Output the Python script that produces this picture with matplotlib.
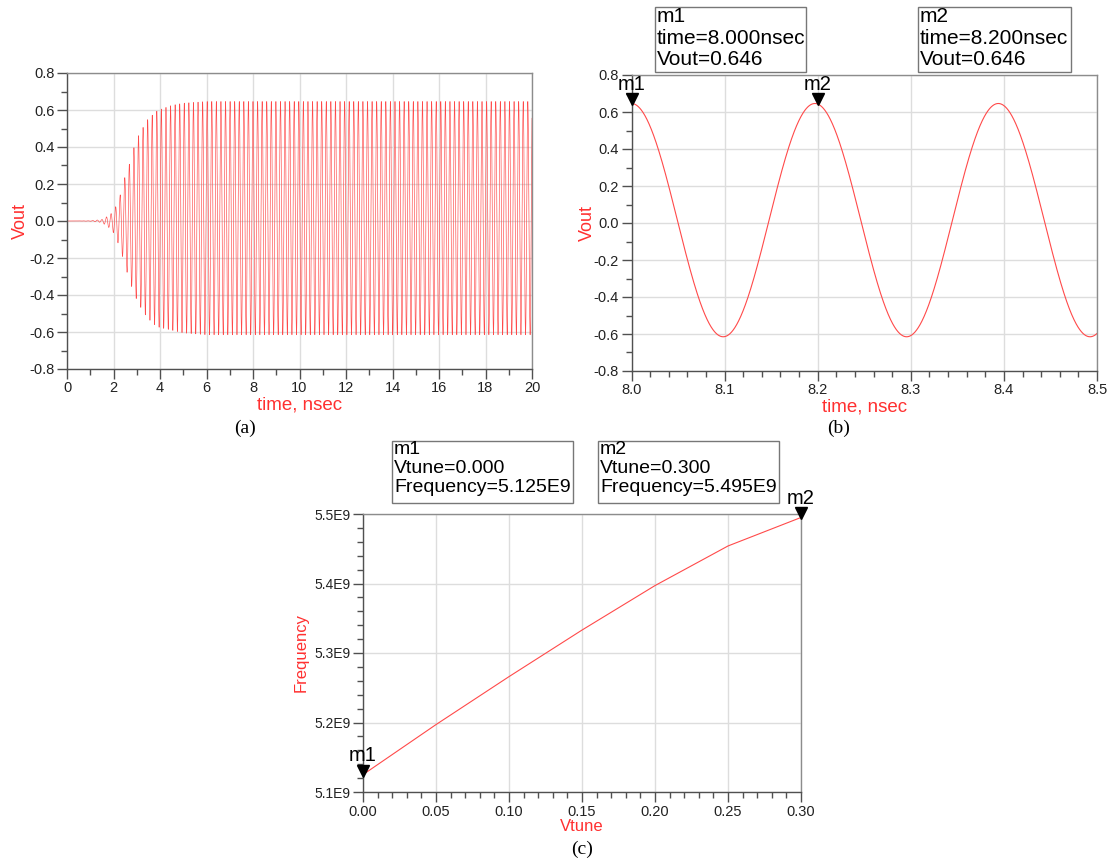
import numpy as np
import matplotlib
matplotlib.use('Agg')
import matplotlib.pyplot as plt
from matplotlib.ticker import MultipleLocator, FormatStrFormatter
from matplotlib.patches import Rectangle
import matplotlib.transforms as mtransforms

plt.rcParams['font.family'] = ['Liberation Sans', 'DejaVu Sans']
plt.rcParams['axes.unicode_minus'] = False

# ---------------- data ----------------
# (a) transient: envelope of the oscillation
env_up_t = [0.0, 1.0, 1.5, 1.86, 2.07, 2.29, 2.47, 2.69, 2.86, 3.07, 3.29, 3.47, 3.69, 3.90, 4.5, 5.0, 6.0, 20.0]
env_up_v = [0.0, 0.001, 0.008, 0.034, 0.070, 0.142, 0.229, 0.310, 0.390, 0.460, 0.510, 0.548, 0.575, 0.598, 0.625, 0.637, 0.646, 0.646]
env_lo_t = [0.0, 1.0, 1.5, 1.93, 2.14, 2.36, 2.54, 2.74, 2.94, 3.14, 3.36, 3.57, 3.76, 3.97, 4.5, 5.0, 6.0, 20.0]
env_lo_v = [0.0, -0.001, -0.008, -0.047, -0.100, -0.180, -0.260, -0.340, -0.410, -0.460, -0.506, -0.537, -0.560, -0.575, -0.590, -0.605, -0.615, -0.615]
osc_period_ns = 0.197     # period
osc_peak_ns = 8.0         # a crest position (marker m1)

# (b) markers
b_markers = ["m1", "m2"]
b_marker_t = [8.000, 8.200]
b_marker_v = [0.646, 0.646]

# (c) tuning curve
vtune = [0.00, 0.05, 0.10, 0.15, 0.20, 0.25, 0.30]
freq = [5.125e9, 5.197e9, 5.266e9, 5.333e9, 5.397e9, 5.454e9, 5.495e9]
c_markers = ["m1", "m2"]

# ---------------- signal ----------------
def vout(t):
    up = np.interp(t, env_up_t, env_up_v)
    lo = np.interp(t, env_lo_t, env_lo_v)
    return (up + lo) / 2 + (up - lo) / 2 * np.cos(2 * np.pi * (t - osc_peak_ns) / osc_period_ns)

t_a = np.linspace(0, 20, 40001)
t_b = np.linspace(8.0, 8.5, 2001)

W, H = 1109, 859
fig = plt.figure(figsize=(W / 100, H / 100), dpi=100)

def rect(l, t, r, b):
    return [l / W, 1 - b / H, (r - l) / W, (b - t) / H]

RED = '#ff3030'
LINE = '#ff4a4a'

def style(ax):
    for s in ax.spines.values():
        s.set_color('#8c8c8c')
        s.set_linewidth(1.0)
    ax.spines['left'].set_color('#505050')
    ax.spines['bottom'].set_color('#505050')
    ax.grid(True, which='major', color='#dddddd', lw=1.0)
    ax.set_axisbelow(True)
    ax.tick_params(which='major', length=7, width=1, color='#505050',
                   labelsize=10.5, labelcolor='#222222', pad=2)
    ax.tick_params(which='minor', length=4, width=1, color='#505050')

def marker(ax, x, y, name, dx=0, dy=19, up=4):
    tr = mtransforms.offset_copy(ax.transData, fig=fig, x=0, y=up, units='dots')
    ax.plot([x], [y], marker='v', ms=8, color='black', transform=tr,
            clip_on=False, zorder=6, linestyle='none')
    ax.annotate(name, xy=(x, y), xytext=(dx, dy), textcoords='offset pixels',
                ha='center', va='center', fontsize=14.5, color='black',
                annotation_clip=False, zorder=6)

def box(x0, y0, x1, y1, lines, fs, ls):
    fig.add_artist(Rectangle((x0 / W, 1 - y1 / H), (x1 - x0) / W, (y1 - y0) / H,
                             transform=fig.transFigure, fill=False,
                             ec='#777777', lw=1.0))
    fig.text((x0 + 2) / W, 1 - (y0 + 0) / H, "\n".join(lines), ha='left', va='top',
             fontsize=fs, linespacing=ls, color='black')

# ---------------- (a) ----------------
axa = fig.add_axes(rect(67, 73, 532, 369))
axa.plot(t_a, vout(t_a), color=LINE, lw=0.45)
axa.set_xlim(0, 20)
axa.set_ylim(-0.8, 0.8)
axa.xaxis.set_major_locator(MultipleLocator(2))
axa.xaxis.set_minor_locator(MultipleLocator(1))
axa.yaxis.set_major_locator(MultipleLocator(0.2))
axa.yaxis.set_minor_locator(MultipleLocator(0.1))
axa.yaxis.set_major_formatter(FormatStrFormatter('%.1f'))
style(axa)
axa.set_xlabel('time, nsec', color=RED, fontsize=13.5)
axa.set_ylabel('Vout', color=RED, fontsize=13)
axa.xaxis.set_label_coords(0.5, -0.122)
axa.xaxis.label.set_va('center')
axa.yaxis.set_label_coords(-0.1, 0.5)
axa.yaxis.label.set_va('center')

# ---------------- (b) ----------------
axb = fig.add_axes(rect(631.5, 75, 1097, 371))
axb.plot(t_b, vout(t_b), color=LINE, lw=0.8)
axb.set_xlim(8.0, 8.5)
axb.set_ylim(-0.8, 0.8)
axb.xaxis.set_major_locator(MultipleLocator(0.1))
axb.xaxis.set_minor_locator(MultipleLocator(0.02))
axb.xaxis.set_major_formatter(FormatStrFormatter('%.1f'))
axb.yaxis.set_major_locator(MultipleLocator(0.2))
axb.yaxis.set_minor_locator(MultipleLocator(0.1))
axb.yaxis.set_major_formatter(FormatStrFormatter('%.1f'))
style(axb)
axb.set_xlabel('time, nsec', color=RED, fontsize=13.5)
axb.set_ylabel('Vout', color=RED, fontsize=13)
axb.xaxis.set_label_coords(0.5, -0.122)
axb.xaxis.label.set_va('center')
axb.yaxis.set_label_coords(-0.095, 0.5)
axb.yaxis.label.set_va('center')
for name, t, v in zip(b_markers, b_marker_t, b_marker_v):
    marker(axb, t, v, name)
box(655, 7, 806, 72, ["m1", "time=%.3fnsec" % b_marker_t[0], "Vout=%.3f" % b_marker_v[0]], 15, 1.17)
box(918, 7, 1071, 72, ["m2", "time=%.3fnsec" % b_marker_t[1], "Vout=%.3f" % b_marker_v[1]], 15, 1.17)

# ---------------- (c) ----------------
axc = fig.add_axes(rect(363, 514, 801, 792))
axc.plot(vtune, freq, color=LINE, lw=0.8)
axc.set_xlim(0, 0.30)
axc.set_ylim(5.1e9, 5.5e9)
axc.xaxis.set_major_locator(MultipleLocator(0.05))
axc.xaxis.set_minor_locator(MultipleLocator(0.01))
axc.xaxis.set_major_formatter(FormatStrFormatter('%.2f'))
axc.yaxis.set_major_locator(MultipleLocator(0.1e9))
axc.yaxis.set_minor_locator(MultipleLocator(0.02e9))
axc.yaxis.set_major_formatter(matplotlib.ticker.FuncFormatter(lambda v, p: '%.1fE9' % (v / 1e9)))
style(axc)
axc.tick_params(axis='y', labelsize=10)
axc.set_xlabel('Vtune', color=RED, fontsize=12)
axc.set_ylabel('Frequency', color=RED, fontsize=12)
axc.xaxis.set_label_coords(0.5, -0.125)
axc.xaxis.label.set_va('center')
axc.yaxis.set_label_coords(-0.142, 0.5)
axc.yaxis.label.set_va('center')
marker(axc, vtune[0], freq[0], c_markers[0])
marker(axc, vtune[-1], freq[-1], c_markers[1])
box(392, 441, 573, 503, ["m1", "Vtune=%.3f" % vtune[0], "Frequency=%.3fE9" % (freq[0] / 1e9)], 14, 1.15)
box(598, 441, 779, 503, ["m2", "Vtune=%.3f" % vtune[-1], "Frequency=%.3fE9" % (freq[-1] / 1e9)], 14, 1.15)

# ---------------- captions ----------------
for txt, x, y in [("(a)", 245, 428), ("(b)", 839, 428), ("(c)", 582, 849)]:
    fig.text(x / W, 1 - y / H, txt, ha='center', va='center', fontsize=14,
             family=['Liberation Serif', 'DejaVu Serif'])

fig.savefig('out.png', dpi=100)
